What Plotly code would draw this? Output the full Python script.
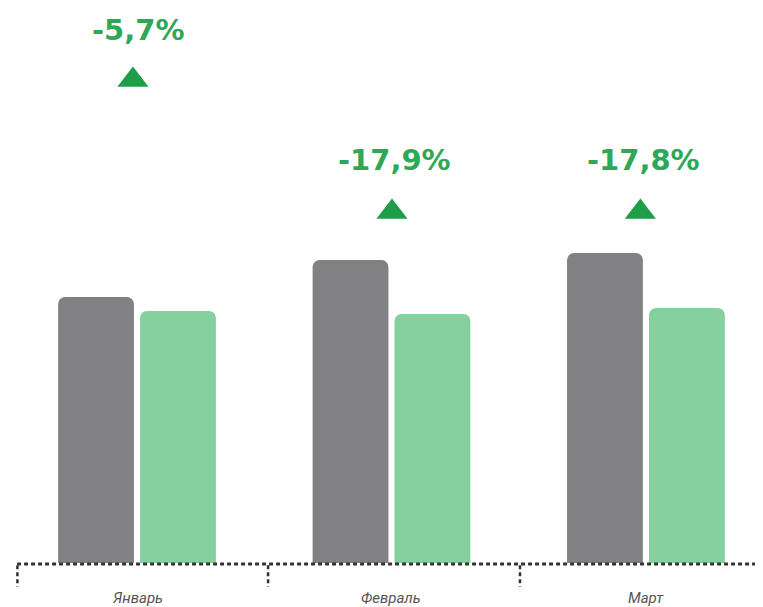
import plotly.graph_objects as go

# ---- data ----
months = ["Январь", "Февраль", "Март"]
prev_year = [266, 303, 310]
this_year = [252, 249, 255]
changes = ["-5,7%", "-17,9%", "-17,8%"]

GRAY = "#818083"
GREEN = "#86cf9e"
TEXT_GREEN = "#2ea857"
TRI_GREEN = "#1f9e4a"

x = list(range(len(months)))

fig = go.Figure()
fig.add_trace(go.Bar(x=x, y=prev_year, width=0.298, offset=-0.31,
                     marker=dict(color=GRAY, line=dict(width=0)), showlegend=False))
fig.add_trace(go.Bar(x=x, y=this_year, width=0.298, offset=0.012,
                     marker=dict(color=GREEN, line=dict(width=0)), showlegend=False))

# triangle markers above each group
tri_y = [483, 351, 351]
tri_dx = [-0.016, 0.002, -0.022]
fig.add_trace(go.Scatter(x=[i + d for i, d in enumerate(tri_dx)], y=tri_y, mode="markers",
                         marker=dict(symbol="triangle-up", size=27, color=TRI_GREEN),
                         showlegend=False, hoverinfo="skip"))

annotations = []
label_y = [533, 403, 403]
label_dx = [0.004, 0.01, -0.01]
for i, c in enumerate(changes):
    annotations.append(dict(x=i + label_dx[i], y=label_y[i], xref="x", yref="y", text=c,
                            showarrow=False, xanchor="center", yanchor="middle",
                            font=dict(family="DejaVu Sans", size=29, color=TEXT_GREEN, weight="bold")))
for i, m in enumerate(months):
    annotations.append(dict(x=i, y=0, xref="x", yref="paper", text=m, showarrow=False,
                            xanchor="center", yanchor="middle", yshift=-35,
                            font=dict(family="Liberation Sans Narrow, Roboto", size=15,
                                      color="#555555", style="italic")))

shapes = [dict(type="line", xref="paper", yref="paper", x0=0.012, x1=1, y0=-0.002, y1=-0.002,
               line=dict(color="#333333", width=3, dash="4px,3px"), layer="above")]
for bx in [-0.47, 0.515, 1.505]:
    shapes.append(dict(type="line", xref="x", yref="paper", x0=bx, x1=bx, y0=-0.004, y1=-0.043,
                       line=dict(color="#333333", width=2.5, dash="4px,3px")))

fig.update_layout(
    width=755, height=599,
    margin=dict(l=0, r=0, t=0, b=44),
    paper_bgcolor="white", plot_bgcolor="white",
    barmode="overlay", barcornerradius=7,
    xaxis=dict(range=[-0.507, 2.46], showgrid=False, zeroline=False,
               showticklabels=False, ticks="", fixedrange=True),
    yaxis=dict(range=[0, 555], showgrid=False, zeroline=False,
               showticklabels=False, ticks="", fixedrange=True),
    annotations=annotations, shapes=shapes,
)

fig.write_html("out.html")
